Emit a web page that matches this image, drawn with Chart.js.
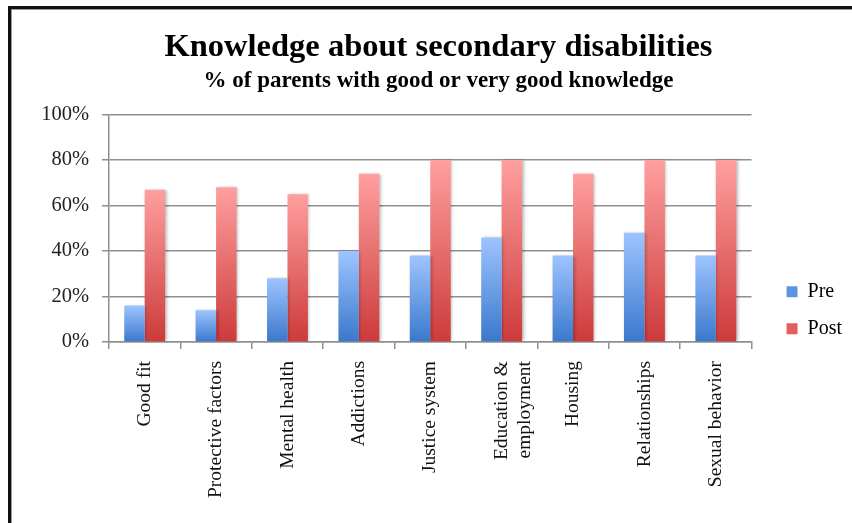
<!DOCTYPE html>
<html><head><meta charset="utf-8">
<script src="https://cdn.jsdelivr.net/npm/chart.js@4.4.0/dist/chart.umd.min.js"></script>
<style>
html,body{margin:0;padding:0;background:#fff;}
#wrap{position:relative;width:852px;height:523px;overflow:hidden;background:#fff;}
#frame{position:absolute;left:8px;top:6px;right:-10px;bottom:-10px;border-left:3px solid #111;border-top:3px solid #111;box-shadow:inset 1px 1px 0 #9a9a9a;pointer-events:none;}
canvas{position:absolute;left:0;top:0;}
</style></head><body>
<div id="wrap"><canvas id="c" width="852" height="523"></canvas><div id="frame"></div></div>
<script>
const categories = ['Good fit', 'Protective factors', 'Mental health', 'Addictions', 'Justice system', ['Education &', 'employment'], 'Housing', 'Relationships', 'Sexual behavior'];
const preValues = [16, 14, 28, 40, 38, 46, 38, 48, 38];
const postValues = [67, 68, 65, 74, 80, 80, 74, 80, 80];
const yTickValues = [0, 20, 40, 60, 80, 100];
const yTickLabels = ['0%', '20%', '40%', '60%', '80%', '100%'];
const seriesNames = ['Pre', 'Post'];

const SERIF = "'Liberation Serif', 'Times New Roman', serif";

function barGradient(topCol, botCol) {
  return (ctx) => {
    const chart = ctx.chart;
    if (!chart.chartArea || ctx.type !== 'data') return botCol;
    const y = chart.scales.y;
    const yTop = y.getPixelForValue(ctx.raw);
    const yBot = y.getPixelForValue(0);
    if (!isFinite(yTop) || !isFinite(yBot) || yTop === yBot) return botCol;
    const g = chart.ctx.createLinearGradient(0, yTop, 0, yBot);
    g.addColorStop(0, topCol);
    g.addColorStop(1, botCol);
    return g;
  };
}

const legendColors = ['#5b94e2', '#e35f5f'];

const shadowPlugin = {
  id: 'barShadow',
  beforeDatasetsDraw(chart) {
    const c = chart.ctx;
    c.save();
    c.shadowColor = 'rgba(0,0,0,0.28)';
    c.shadowBlur = 3;
    c.shadowOffsetX = 1.5;
    c.shadowOffsetY = 0;
  },
  afterDatasetsDraw(chart) { chart.ctx.restore(); }
};

new Chart(document.getElementById('c'), {
  type: 'bar',
  data: {
    labels: categories,
    datasets: [
      { label: seriesNames[0], data: preValues, backgroundColor: barGradient('#9ec4ff', '#3a78cc'), borderWidth: 0, categoryPercentage: 0.573, barPercentage: 1.0 },
      { label: seriesNames[1], data: postValues, backgroundColor: barGradient('#ff9f9f', '#cd3a3a'), borderWidth: 0, categoryPercentage: 0.573, barPercentage: 1.0 }
    ]
  },
  options: {
    responsive: false,
    animation: false,
    devicePixelRatio: 1,
    layout: { padding: { left: 25, right: 0, top: 0, bottom: 16 } },
    plugins: {
      title: { display: true, text: 'Knowledge about secondary disabilities', color: '#000', font: { family: SERIF, size: 32.5, weight: 'bold' }, padding: { top: 28, bottom: 0 } },
      subtitle: { display: true, text: '% of parents with good or very good knowledge', color: '#000', font: { family: SERIF, size: 23, weight: 'bold' }, padding: { top: 0, bottom: 20 } },
      legend: {
        position: 'right', align: 'center',
        title: { display: true, text: ' ', font: { size: 12 }, padding: { top: 0, bottom: 99 } },
        labels: {
          boxWidth: 11, boxHeight: 11, padding: 17, color: '#000',
          font: { family: SERIF, size: 20 },
          generateLabels(chart) {
            const items = Chart.defaults.plugins.legend.labels.generateLabels(chart);
            items.forEach((it, i) => { it.fillStyle = legendColors[i]; it.strokeStyle = legendColors[i]; it.lineWidth = 0; });
            return items;
          }
        }
      },
      tooltip: { enabled: false }
    },
    scales: {
      x: {
        ticks: { maxRotation: 90, minRotation: 90, color: '#111', font: { family: SERIF, size: 19.5 }, padding: 12 },
        grid: { drawOnChartArea: false, drawTicks: true, tickLength: 7, color: '#8f8f8f', lineWidth: 1.5, offset: true },
        border: { color: '#8f8f8f', width: 1.5 },
        afterFit: (s) => { s.height = 165; }
      },
      y: {
        min: 0, max: 100,
        afterBuildTicks: (s) => { s.ticks = yTickValues.map(v => ({ value: v })); },
        ticks: { color: '#222', font: { family: SERIF, size: 20.5 }, padding: 13, callback: (v) => yTickLabels[yTickValues.indexOf(v)] },
        grid: { color: '#8f8f8f', lineWidth: 1.5, tickLength: 7 },
        border: { color: '#8f8f8f', width: 1.5 },
        afterFit: (s) => { s.width = 84; }
      },
      yR: {
        position: 'right', display: true,
        grid: { display: false }, ticks: { display: false }, border: { display: false },
        afterFit: (s) => { s.width = 18; }
      }
    }
  },
  plugins: [shadowPlugin]
});
</script>
</body></html>
